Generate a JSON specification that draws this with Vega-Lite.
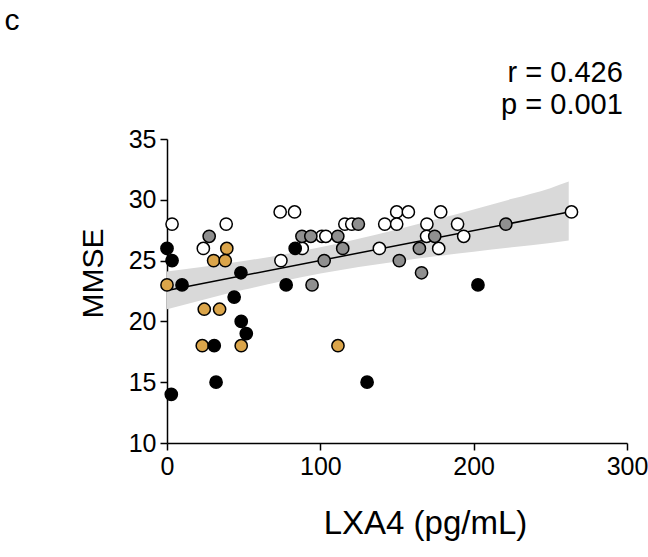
{
  "$schema": "https://vega.github.io/schema/vega-lite/v6.json",
  "width": 460,
  "height": 304,
  "autosize": "none",
  "padding": {"left": 167, "top": 139, "right": 21, "bottom": 114},
  "background": "white",
  "config": {
    "view": {"stroke": null},
    "font": "Liberation Sans",
    "axis": {
      "domainColor": "black", "domainWidth": 1.5,
      "tickColor": "black", "tickWidth": 1.5, "tickSize": 7,
      "labelFont": "Liberation Sans", "labelFontSize": 25, "labelColor": "black",
      "titleFont": "Liberation Sans", "titleFontWeight": "normal", "titleColor": "black",
      "grid": false, "labelFlush": false, "labelOverlap": false
    }
  },
  "datasets": {
    "pts": [
      {"x": 3.3, "y": 28, "g": "w"}, {"x": 23.7, "y": 26, "g": "w"}, {"x": 38.6, "y": 28, "g": "w"},
      {"x": 73.8, "y": 29, "g": "w"}, {"x": 83.2, "y": 29, "g": "w"}, {"x": 74.3, "y": 25, "g": "w"},
      {"x": 88.2, "y": 26, "g": "w"}, {"x": 101, "y": 27, "g": "w"}, {"x": 103.6, "y": 27, "g": "w"},
      {"x": 116, "y": 28, "g": "w"}, {"x": 120.5, "y": 28, "g": "w"}, {"x": 142, "y": 28, "g": "w"},
      {"x": 149.8, "y": 29, "g": "w"}, {"x": 157.4, "y": 29, "g": "w"}, {"x": 149.8, "y": 28, "g": "w"},
      {"x": 138.5, "y": 26, "g": "w"}, {"x": 169.5, "y": 28, "g": "w"}, {"x": 169.3, "y": 27, "g": "w"},
      {"x": 177.2, "y": 26, "g": "w"}, {"x": 178.5, "y": 29, "g": "w"}, {"x": 189.5, "y": 28, "g": "w"},
      {"x": 193.5, "y": 27, "g": "w"}, {"x": 263.8, "y": 29, "g": "w"},
      {"x": 27.5, "y": 27, "g": "g"}, {"x": 88, "y": 27, "g": "g"}, {"x": 93.8, "y": 27, "g": "g"},
      {"x": 111.4, "y": 27, "g": "g"}, {"x": 114.6, "y": 26, "g": "g"}, {"x": 102.5, "y": 25, "g": "g"},
      {"x": 94.6, "y": 23, "g": "g"}, {"x": 124.8, "y": 28, "g": "g"}, {"x": 151.5, "y": 25, "g": "g"},
      {"x": 164.6, "y": 26, "g": "g"}, {"x": 166, "y": 24, "g": "g"}, {"x": 174.6, "y": 27, "g": "g"},
      {"x": 221, "y": 28, "g": "g"},
      {"x": 39, "y": 26, "g": "o"}, {"x": 30.4, "y": 25, "g": "o"}, {"x": 38, "y": 25, "g": "o"},
      {"x": 0, "y": 23, "g": "o"}, {"x": 24.3, "y": 21, "g": "o"}, {"x": 34.3, "y": 21, "g": "o"},
      {"x": 23, "y": 18, "g": "o"}, {"x": 48.4, "y": 18, "g": "o"}, {"x": 111.5, "y": 18, "g": "o"},
      {"x": 0, "y": 26, "g": "b"}, {"x": 3.3, "y": 25, "g": "b"}, {"x": 48.2, "y": 24, "g": "b"},
      {"x": 83.6, "y": 26, "g": "b"}, {"x": 9.8, "y": 23, "g": "b"}, {"x": 77.7, "y": 23, "g": "b"},
      {"x": 43.8, "y": 22, "g": "b"}, {"x": 48.4, "y": 20, "g": "b"}, {"x": 51.7, "y": 19, "g": "b"},
      {"x": 30.8, "y": 18, "g": "b"}, {"x": 32, "y": 15, "g": "b"}, {"x": 2.8, "y": 14, "g": "b"},
      {"x": 130.5, "y": 15, "g": "b"}, {"x": 202.8, "y": 23, "g": "b"}
    ],
    "band": [
      {"bx": 0, "lo": 21.0, "hi": 24.1},
      {"bx": 25, "lo": 21.83, "hi": 24.51},
      {"bx": 50, "lo": 22.6, "hi": 24.96},
      {"bx": 75, "lo": 23.31, "hi": 25.49},
      {"bx": 100, "lo": 23.93, "hi": 26.09},
      {"bx": 125, "lo": 24.47, "hi": 26.79},
      {"bx": 150, "lo": 24.93, "hi": 27.55},
      {"bx": 175, "lo": 25.35, "hi": 28.37},
      {"bx": 200, "lo": 25.73, "hi": 29.21},
      {"bx": 225, "lo": 26.1, "hi": 30.08},
      {"bx": 250, "lo": 26.44, "hi": 30.96},
      {"bx": 262, "lo": 26.65, "hi": 31.5}
    ],
    "fit": [
      {"fx": 0, "fy": 22.55},
      {"fx": 263.8, "fy": 29.04}
    ]
  },
  "layer": [
    {
      "data": {"name": "band"},
      "mark": {"type": "area", "color": "#d9d9d9", "interpolate": "monotone"},
      "encoding": {
        "x": {"field": "bx", "type": "quantitative", "scale": {"domain": [0, 300], "nice": false, "zero": false},
              "axis": {"title": "LXA4 (pg/mL)", "values": [0, 100, 200, 300], "titleFontSize": 33, "titlePadding": 28, "labelPadding": 4, "titleX": 258}},
        "y": {"field": "lo", "type": "quantitative", "scale": {"domain": [10, 35], "nice": false, "zero": false},
              "axis": {"title": "MMSE", "values": [10, 15, 20, 25, 30, 35], "titleFontSize": 30, "titlePadding": 20, "labelPadding": 4, "titleY": 134}},
        "y2": {"field": "hi"}
      }
    },
    {
      "data": {"name": "fit"},
      "mark": {"type": "line", "color": "black", "strokeWidth": 1.5},
      "encoding": {
        "x": {"field": "fx", "type": "quantitative", "scale": {"domain": [0, 300], "nice": false, "zero": false}, "axis": {"title": "LXA4 (pg/mL)"}},
        "y": {"field": "fy", "type": "quantitative", "scale": {"domain": [10, 35], "nice": false, "zero": false}, "axis": {"title": "MMSE"}}
      }
    },
    {
      "data": {"name": "pts"},
      "mark": {"type": "point", "shape": "circle", "filled": true, "size": 150, "stroke": "black", "strokeWidth": 1.5, "opacity": 1},
      "encoding": {
        "x": {"field": "x", "type": "quantitative", "scale": {"domain": [0, 300], "nice": false, "zero": false}, "axis": {"title": "LXA4 (pg/mL)"}},
        "y": {"field": "y", "type": "quantitative", "scale": {"domain": [10, 35], "nice": false, "zero": false}, "axis": {"title": "MMSE"}},
        "fill": {"field": "g", "type": "nominal", "scale": {"domain": ["w", "g", "o", "b"], "range": ["#ffffff", "#8f8f8f", "#dba54a", "#000000"]}, "legend": null}
      }
    },
    {
      "data": {"values": [{}]},
      "mark": {"type": "text", "text": "r = 0.426", "align": "right", "baseline": "alphabetic", "fontSize": 29, "font": "Liberation Sans", "color": "black"},
      "encoding": {"x": {"datum": 297.3, "type": "quantitative"}, "y": {"datum": 39.69, "type": "quantitative"}}
    },
    {
      "data": {"values": [{}]},
      "mark": {"type": "text", "text": "p = 0.001", "align": "right", "baseline": "alphabetic", "fontSize": 29, "font": "Liberation Sans", "color": "black"},
      "encoding": {"x": {"datum": 297.3, "type": "quantitative"}, "y": {"datum": 37.06, "type": "quantitative"}}
    },
    {
      "data": {"values": [{}]},
      "mark": {"type": "text", "text": "c", "align": "left", "baseline": "alphabetic", "fontSize": 30, "font": "Liberation Sans", "color": "black"},
      "encoding": {"x": {"datum": -106, "type": "quantitative"}, "y": {"datum": 43.96, "type": "quantitative"}}
    }
  ]
}
